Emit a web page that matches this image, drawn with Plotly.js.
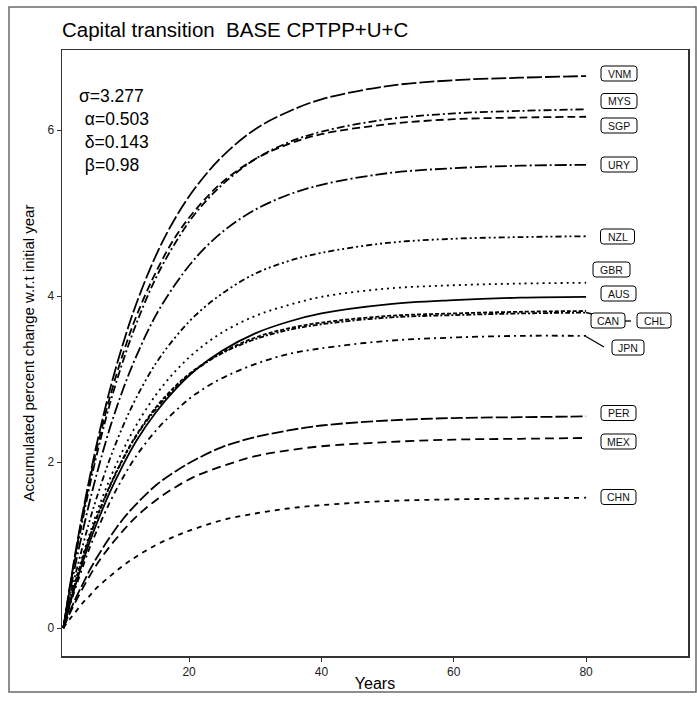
<!DOCTYPE html>
<html>
<head>
<meta charset="utf-8">
<script src="https://cdn.plot.ly/plotly-3.0.1.min.js"></script>
<style>html,body{margin:0;padding:0;background:#fff;}#chart{width:697px;height:704px;}</style>
</head>
<body>
<div id="chart"></div>
<script>
// ---- data ----
const years = [1,2,3,4,5,6,8,10,12,15,18,21,25,30,35,40,50,60,70,80];
const countries = ["VNM","MYS","SGP","URY","NZL","GBR","AUS","CAN","CHL","JPN","PER","MEX","CHN"];
const VNM = [0,0.51,0.99,1.42,1.82,2.20,2.86,3.42,3.90,4.49,4.95,5.31,5.68,6.01,6.22,6.37,6.53,6.60,6.63,6.65];
const MYS = [0,0.48,0.93,1.33,1.72,2.07,2.69,3.21,3.66,4.22,4.65,5.00,5.34,5.65,5.85,5.98,6.13,6.20,6.23,6.25];
const SGP = [0,0.50,0.96,1.39,1.78,2.14,2.77,3.30,3.75,4.29,4.72,5.04,5.37,5.65,5.83,5.95,6.07,6.13,6.15,6.16];
const URY = [0,0.43,0.83,1.19,1.53,1.84,2.40,2.87,3.27,3.77,4.15,4.46,4.77,5.04,5.22,5.34,5.48,5.54,5.57,5.58];
const NZL = [0,0.36,0.70,1.01,1.30,1.56,2.03,2.43,2.77,3.19,3.51,3.77,4.03,4.27,4.42,4.52,4.64,4.69,4.71,4.72];
const GBR = [0,0.32,0.62,0.89,1.14,1.38,1.79,2.14,2.44,2.81,3.10,3.33,3.56,3.76,3.89,3.99,4.09,4.13,4.15,4.16];
const AUS = [0,0.29,0.56,0.81,1.04,1.25,1.63,1.96,2.25,2.60,2.88,3.11,3.34,3.55,3.69,3.79,3.90,3.95,3.98,3.99];
const CAN = [0,0.31,0.60,0.86,1.10,1.32,1.71,2.04,2.32,2.66,2.92,3.12,3.32,3.50,3.61,3.68,3.76,3.79,3.81,3.82];
const CHL = [0,0.31,0.59,0.86,1.10,1.32,1.70,2.03,2.31,2.64,2.90,3.11,3.31,3.48,3.59,3.66,3.74,3.77,3.79,3.80];
const JPN = [0,0.27,0.52,0.75,0.97,1.16,1.51,1.81,2.07,2.38,2.62,2.82,3.01,3.18,3.30,3.37,3.46,3.50,3.52,3.52];
const PER = [0,0.20,0.38,0.54,0.70,0.84,1.09,1.31,1.49,1.72,1.89,2.03,2.18,2.30,2.38,2.44,2.50,2.53,2.54,2.55];
const MEX = [0,0.18,0.34,0.49,0.63,0.76,0.98,1.17,1.34,1.54,1.70,1.83,1.95,2.07,2.14,2.19,2.24,2.27,2.28,2.29];
const CHN = [0,0.11,0.21,0.31,0.39,0.48,0.62,0.75,0.86,1.00,1.11,1.20,1.30,1.38,1.44,1.48,1.53,1.55,1.56,1.57];
const xTicks = [20,40,60,80];
const yTicks = [0,2,4,6];
const params = ["σ=3.277"," α=0.503"," δ=0.143"," β=0.98"];
const titleText = "Capital transition  BASE CPTPP+U+C";

// ---- styles ----
const seriesValues = {VNM,MYS,SGP,URY,NZL,GBR,AUS,CAN,CHL,JPN,PER,MEX,CHN};
const dashes = {
  VNM:"15px,3px", MYS:"8px,3px,2px,3px", SGP:"8px,4px", URY:"12px,3px,2px,3px",
  NZL:"6px,3px,2px,3px,2px,3px", GBR:"2px,4px", AUS:"solid", CAN:"4px,2px",
  CHL:"2px,2px,5px,2px", JPN:"6px,4px,2px,4px", PER:"12px,3px", MEX:"9px,5px", CHN:"5px,5px"
};

const traces = countries.map(c => ({
  x: years, y: seriesValues[c], type: "scatter", mode: "lines", name: c,
  line: {color: "#000", width: 1.8, dash: dashes[c], shape: "spline", smoothing: 1},
  hoverinfo: "skip"
}));

// ---- pixel helpers for layout decorations ----
const L = 62, R = 688, T = 50, B = 656;
const pxX = x => (x - L) / (R - L);
const pxY = y => (B - y) / (B - T);
const FONT = "Arial, Liberation Sans, sans-serif";

// label boxes: [text, centerX, centerY, width]
const labelPos = [
  ["VNM",619,73.5,36],["MYS",619,101,36],["SGP",619,125.5,36],["URY",619,164.5,36],
  ["NZL",617.5,236.5,34],["GBR",611.5,269.5,37],["AUS",618.5,293.5,35],["CAN",608,320.5,34],
  ["CHL",654,320.5,34],["JPN",628,347.5,32],["PER",618.5,413,35],["MEX",618.5,441.5,35],["CHN",618.5,497,35]
];
const boxH = 15, rad = 3;
function roundRect(cx, cy, w, h, r) {
  const x0 = pxX(cx - w/2), x1 = pxX(cx + w/2);
  const y0 = pxY(cy + h/2), y1 = pxY(cy - h/2);
  const rx = r / (R - L), ry = r / (B - T);
  return `M${x0+rx},${y0} L${x1-rx},${y0} Q${x1},${y0} ${x1},${y0+ry} L${x1},${y1-ry} Q${x1},${y1} ${x1-rx},${y1} L${x0+rx},${y1} Q${x0},${y1} ${x0},${y1-ry} L${x0},${y0+ry} Q${x0},${y0} ${x0+rx},${y0} Z`;
}

const shapes = [];
// outer frame
shapes.push({type:"rect", xref:"paper", yref:"paper", x0:pxX(9), x1:pxX(696), y0:pxY(692), y1:pxY(7),
  line:{color:"#6a6a6a", width:1.5}, fillcolor:"rgba(0,0,0,0)", layer:"below"});
// connectors
const seg = (xa,ya,xb,yb) => ({type:"line", xref:"paper", yref:"paper", x0:pxX(xa), y0:pxY(ya), x1:pxX(xb), y1:pxY(yb), line:{color:"#000", width:1.3}});
shapes.push(seg(586,336.5,604,347));
shapes.push(seg(625,321,631,321));
shapes.push(seg(586,312.5,592,314));

const annotations = [];
labelPos.forEach(([t,cx,cy,w]) => {
  shapes.push({type:"path", xref:"paper", yref:"paper", path:roundRect(cx,cy,w,boxH,rad),
    line:{color:"#000", width:1}, fillcolor:"#fff"});
  annotations.push({xref:"paper", yref:"paper", x:pxX(cx), y:pxY(cy), text:t, showarrow:false,
    xanchor:"center", yanchor:"middle", font:{family:FONT, size:10.5, color:"#111"}});
});
const paramY = [96,119,142,165];
params.forEach((p,i) => {
  annotations.push({xref:"paper", yref:"paper", x:pxX(i===0?77:78), y:pxY(paramY[i]), text:p.replace(/^ /,"&nbsp;"),
    showarrow:false, xanchor:"left", yanchor:"middle",
    font:{family:FONT, size:17.5, color:"#000"}});
});

const layout = {
  width: 697, height: 704,
  margin: {l: L, r: 697 - R, t: T, b: 704 - B, pad: 0},
  paper_bgcolor: "#fff", plot_bgcolor: "#fff",
  showlegend: false,
  title: {text: titleText, x: 0, xref: "paper", xanchor: "left", y: 1 - 30/704, yref: "container", yanchor: "middle",
    font: {family: FONT, size: 20.5, color: "#000"}},
  xaxis: {range: [0.8, 95.4], tickvals: xTicks, ticktext: xTicks.map(String), ticks: "outside", ticklen: 4, tickwidth: 1,
    tickcolor: "#333", showgrid: false, zeroline: false, showline: true, mirror: true, linecolor: "#333", linewidth: 1.5,
    tickfont: {family: FONT, size: 12, color: "#222"},
    title: {text: "Years", standoff: 0, font: {family: FONT, size: 16, color: "#000"}}},
  yaxis: {range: [-0.337, 6.964], tickvals: yTicks, ticktext: yTicks.map(String), ticks: "outside", ticklen: 4, tickwidth: 1,
    tickcolor: "#333", showgrid: false, zeroline: false, showline: true, mirror: true, linecolor: "#333", linewidth: 1.5,
    tickfont: {family: FONT, size: 12, color: "#222"},
    title: {text: "Accumulated percent change w.r.t initial year", standoff: 9,
      font: {family: FONT, size: 15, color: "#000"}}},
  shapes: shapes,
  annotations: annotations
};

Plotly.newPlot("chart", traces, layout, {staticPlot: true, displayModeBar: false});
</script>
</body>
</html>
